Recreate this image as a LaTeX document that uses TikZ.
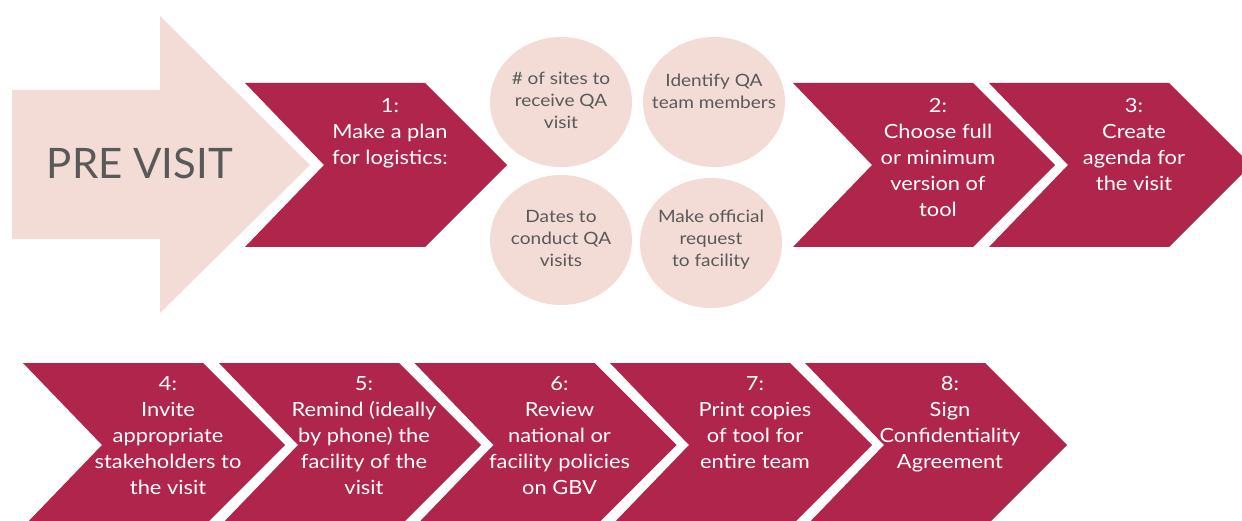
\documentclass[tikz,border=0pt]{standalone}
\usepackage{fontspec}
\setmainfont{Lato}
\newfontfamily\widefont[FakeStretch=1.12]{Lato}
\usetikzlibrary{shapes.geometric}
\definecolor{crim}{HTML}{AF254C}
\definecolor{blush}{HTML}{F4DCD6}
\definecolor{txtgray}{HTML}{595959}
\tikzset{
  chevtext/.style={anchor=north, align=center, text=white, inner sep=0pt,
    font=\widefont\fontsize{19.5}{26}\selectfont},
  circtext/.style={anchor=north, align=center, text=txtgray, inner sep=0pt,
    font=\widefont\fontsize{17}{22}\selectfont},
  bubble/.style={ellipse, fill=blush, draw=none, minimum width=142pt, minimum height=130pt, inner sep=0pt},
}
\newcommand\chevshape[2]{\fill[crim] (#1,#2) -- ++(180,0) -- ++(82,82) -- ++(-82,82) -- ++(-180,0) -- ++(79,-82) -- cycle;}
\begin{document}
\begin{tikzpicture}[x=1pt,y=-1pt]
\useasboundingbox (0,0) rectangle (1242,521);
\clip (0,0) rectangle (1242,521);
% big arrow
\fill[blush] (12,90) -- (160,90) -- (160,16) -- (310,165) -- (160,313) -- (160,239) -- (12,239) -- cycle;
\node[font=\fontsize{42}{42}\selectfont, text=txtgray, inner sep=0pt] (pre) at (140,163) {PRE VISIT};
% row 1 chevrons
\chevshape{245}{83}
\chevshape{793}{83}
\chevshape{989}{83}
\node[chevtext] (s1) at (390,98) {1:\\Make a plan\\for logistics:};
\node[chevtext] (s2) at (938,98) {2:\\Choose full\\or minimum\\version of\\tool};
\node[chevtext] (s3) at (1134,98) {3:\\Create\\agenda for\\the visit};
% bubbles
\node[bubble] (b1) at (561,102) {};
\node[bubble] (b2) at (714,102) {};
\node[bubble] (b3) at (561,240) {};
\node[bubble] (b4) at (711,243) {};
\node[circtext] (t1) at (561,71.5) {\# of sites to\\receive QA\\visit};
\node[circtext] (t2) at (714,73.5) {Identify QA\\team members};
\node[circtext] (t3) at (561,210) {Dates to\\conduct QA\\visits};
\node[circtext] (t4) at (711,210) {Make official\\request\\to facility};
% row 2 chevrons
\chevshape{23}{363}
\chevshape{219}{363}
\chevshape{414.5}{363}
\chevshape{610}{363}
\chevshape{805}{363}
\node[chevtext] (s4) at (168,376) {4:\\Invite\\appropriate\\stakeholders to\\the visit};
\node[chevtext] (s5) at (364,376) {5:\\Remind (ideally\\by phone) the\\facility of the\\visit};
\node[chevtext] (s6) at (559.5,376) {6:\\Review\\national or\\facility policies\\on GBV};
\node[chevtext] (s7) at (755,376) {7:\\Print copies\\of tool for\\entire team};
\node[chevtext] (s8) at (950,376) {8:\\Sign\\Confidentiality\\Agreement};
\end{tikzpicture}
\end{document}
